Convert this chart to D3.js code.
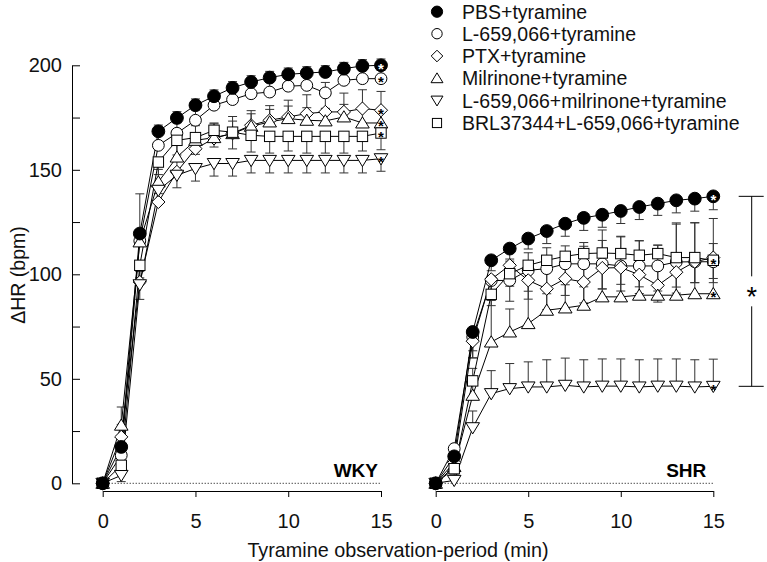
<!DOCTYPE html>
<html><head><meta charset="utf-8">
<script src="https://cdn.jsdelivr.net/npm/d3@7/dist/d3.min.js"></script>
<style>
body{margin:0;background:#fff}
text{font-family:"Liberation Sans",Arial,Helvetica,sans-serif}
</style>
</head><body>
<svg id="c" width="767" height="562"></svg>
<script>
// ---------- data ----------
const times = [0,1,2,3,4,5,6,7,8,9,10,11,12,13,14,15];
const seriesNames = ["PBS+tyramine","L-659,066+tyramine","PTX+tyramine","Milrinone+tyramine","L-659,066+milrinone+tyramine","BRL37344+L-659,066+tyramine"];
const seriesKeys = ["pbs","l659","ptx","mil","l659mil","brl"];
const xTickValues = [0,5,10,15];
const yTickValues = [0,25,50,75,100,125,150,175,200];
const yLabelValues = [0,50,100,150,200];
const panelNames = ["WKY","SHR"];

// WKY means
const wkyPbs     = [0,17.4,119.5,168.4,174.8,180.9,185.2,189.2,192.0,194.1,195.7,196.3,196.8,198.4,199.7,200.0];
const wkyL659    = [0,13.4,116.0,161.7,167.5,173.7,180.9,183.6,186.4,187.2,190.0,190.4,186.8,192.8,193.6,193.6];
const wkyPtx     = [0,22.2,96.3,134.6,149.0,160.1,165.0,167.5,171.3,173.7,175.3,176.9,177.7,177.7,179.3,178.5];
const wkyMil     = [0,27.8,115.5,144.2,156.1,164.1,165.4,167.3,170.8,172.9,174.5,173.7,173.4,175.3,172.4,172.4];
const wkyL659Mil = [0,3.8,95.0,140.2,147.4,150.6,153.0,153.0,154.5,154.5,154.5,154.5,154.5,154.5,154.5,155.3];
const wkyBrl     = [0,8.6,104.3,153.7,164.1,165.4,168.9,168.0,166.5,166.0,166.0,166.0,166.0,166.0,166.0,167.6];
// WKY SEM
const wkyPbsErr     = [0,2,19,3,3,3,3,3,3,3,3,3,3,3,3,3];
const wkyL659Err    = [0,3,4,5,5,5,5,5,5,5,5,5,5,4,4,4];
const wkyPtxErr     = [0,6,5,4,5,6,7,8,7,7,8,9,8,9,9,9];
const wkyMilErr     = [0,8.7,5,6,6,7,7,6,6,6,6,6,6,6,6,6];
const wkyL659MilErr = [0,3,7,6,6,6,6,6,6,6,6,6,6,6,6,6];
const wkyBrlErr     = [0,4,6,6,7,8,8,8,8,8,7,8,8,8,7,8];

// SHR means
const shrPbs     = [0,12.9,72.4,106.7,112.3,117.1,120.7,124.2,127.0,128.5,130.3,132.2,133.8,135.4,136.2,137.3];
const shrL659    = [0,16.6,70.0,97.0,97.1,101.9,102.7,105.0,105.0,105.0,104.0,104.0,104.0,105.9,106.0,106.0];
const shrPtx     = [0,10.0,68.0,97.6,104.3,97.1,93.1,97.9,96.3,103.0,103.2,99.8,94.7,101.0,106.0,108.0];
const shrMil     = [0,8.0,42.1,67.6,72.4,76.4,82.8,83.9,85.2,89.2,89.2,90.0,90.0,90.0,90.7,90.7];
const shrL659Mil = [0,1.4,26.6,42.9,45.3,46.1,46.1,46.9,46.1,46.5,46.5,46.1,46.5,46.5,46.1,46.4];
const shrBrl     = [0,7.0,49.0,90.4,100.3,104.3,106.7,108.6,109.9,110.2,109.9,109.1,109.9,108.0,108.0,106.7];
// SHR SEM
const shrPbsErr     = [0,3,9,5,5,5,6,6,6,6,6,6,5.6,6,6,6.4];
const shrL659Err    = [0,4,10,12,10,10,12,10,11,12,12,10,12,12,10,10];
const shrPtxErr     = [0,4,8,10,10,9,10,8,10,10,8,9,8,10,10,10];
const shrMilErr     = [0,5,8,20,11,20,25,25,30,32,29,26,24,34,34,36];
const shrL659MilErr = [0,3,8,11,12,12,13,13,13,13,13,13,13,13,13,13];
const shrBrlErr     = [0,4,6,5,6,6,6,5,3.5,6,8,7,4,16.6,16.6,8];

// error-bar direction per series (1 = up, -1 = down)
const wkyErrDir = {pbs:1,l659:1,ptx:1,mil:1,l659mil:-1,brl:-1};
const shrErrDir = {pbs:-1,l659:-1,ptx:-1,mil:1,l659mil:1,brl:1};

// ---------- build ----------
const svg = d3.select("#c");
const y = d3.scaleLinear().domain([0,200]).range([483.3,65.3]);
const xL = d3.scaleLinear().domain([0,15]).range([102.7,381]);
const xR = d3.scaleLinear().domain([0,15]).range([435.7,713.3]);
const xAxisY = 491;
const FONT = "Liberation Sans, Arial, sans-serif";

const style = {
  pbs:{shape:"circle",fill:"#000"},
  l659:{shape:"circle",fill:"#fff"},
  ptx:{shape:"diamond",fill:"#fff"},
  mil:{shape:"tri",fill:"#fff"},
  l659mil:{shape:"tridown",fill:"#fff"},
  brl:{shape:"square",fill:"#fff"}
};

function drawSymbol(g, shape, fill, cx, cy, s){
  s = s || 1;
  if(shape==="circle"){
    g.append("circle").attr("cx",cx).attr("cy",cy).attr("r",(fill==="#000"?6.4:5.9)*s)
      .attr("fill",fill).attr("stroke","#000").attr("stroke-width",1);
  } else if(shape==="square"){
    const h=5.2*s;
    g.append("rect").attr("x",cx-h).attr("y",cy-h).attr("width",2*h).attr("height",2*h)
      .attr("fill",fill).attr("stroke","#000").attr("stroke-width",1);
  } else if(shape==="diamond"){
    const h=6.6*s;
    g.append("path").attr("d",`M${cx},${cy-h}L${cx+h},${cy}L${cx},${cy+h}L${cx-h},${cy}Z`)
      .attr("fill",fill).attr("stroke","#000").attr("stroke-width",1);
  } else if(shape==="tri"){
    const w=6.8*s, t=6.2*s, b=5*s;
    g.append("path").attr("d",`M${cx},${cy-t}L${cx+w},${cy+b}L${cx-w},${cy+b}Z`)
      .attr("fill",fill).attr("stroke","#000").attr("stroke-width",1);
  } else if(shape==="tridown"){
    const w=6.8*s, t=6.2*s, b=5*s;
    g.append("path").attr("d",`M${cx},${cy+t}L${cx+w},${cy-b}L${cx-w},${cy-b}Z`)
      .attr("fill",fill).attr("stroke","#000").attr("stroke-width",1);
  }
}

const panels = [
  {x:xL, name:panelNames[0], dir:wkyErrDir,
   data:{pbs:wkyPbs,l659:wkyL659,ptx:wkyPtx,mil:wkyMil,l659mil:wkyL659Mil,brl:wkyBrl},
   err:{pbs:wkyPbsErr,l659:wkyL659Err,ptx:wkyPtxErr,mil:wkyMilErr,l659mil:wkyL659MilErr,brl:wkyBrlErr}},
  {x:xR, name:panelNames[1], dir:shrErrDir,
   data:{pbs:shrPbs,l659:shrL659,ptx:shrPtx,mil:shrMil,l659mil:shrL659Mil,brl:shrBrl},
   err:{pbs:shrPbsErr,l659:shrL659Err,ptx:shrPtxErr,mil:shrMilErr,l659mil:shrL659MilErr,brl:shrBrlErr}}
];

const drawOrder = ["l659","ptx","mil","l659mil","brl","pbs"];

panels.forEach(p=>{
  const x = p.x;
  svg.append("line").attr("x1",x(0)).attr("x2",x(15)).attr("y1",y(0)).attr("y2",y(0))
    .attr("stroke","#000").attr("stroke-width",1).attr("stroke-dasharray","1,2");
  const ax = svg.append("g").attr("transform",`translate(0,${xAxisY})`)
    .call(d3.axisBottom(x).tickValues(xTickValues).tickSizeInner(6).tickSizeOuter(0).tickPadding(17).tickFormat(d3.format("d")));
  ax.select(".domain").attr("stroke","#000");
  ax.selectAll(".tick line").attr("stroke","#000");
  ax.selectAll("text").attr("font-size",20).attr("fill","#111").style("font-family",FONT);
  svg.append("text").attr("x",p.name==="WKY"?x(15)-3:x(15)-7).attr("y",477).attr("text-anchor","end")
    .attr("font-size",19).attr("font-weight","bold").text(p.name);

  const g = svg.append("g");
  drawOrder.forEach(k=>{
    const vals=p.data[k], errs=p.err[k], d=p.dir[k];
    times.forEach((t,i)=>{
      if(!errs[i]) return;
      const y0=y(vals[i]), y1=y(vals[i]+d*errs[i]), cx=x(t);
      g.append("line").attr("x1",cx).attr("x2",cx).attr("y1",y0).attr("y2",y1).attr("stroke","#333").attr("stroke-width",1);
      g.append("line").attr("x1",cx-4.5).attr("x2",cx+4.5).attr("y1",y1).attr("y2",y1).attr("stroke","#333").attr("stroke-width",1);
    });
  });
  drawOrder.forEach(k=>{
    const vals=p.data[k];
    const line = d3.line().x((d,i)=>x(times[i])).y(d=>y(d));
    g.append("path").attr("d",line(vals)).attr("fill","none").attr("stroke","#000").attr("stroke-width",1);
  });
  drawOrder.forEach(k=>{
    const vals=p.data[k], st=style[k];
    times.forEach((t,i)=>{
      drawSymbol(g, st.shape, st.fill, x(t), y(vals[i]));
    });
    const li = times.length-1;
    g.append("text").attr("x",x(times[li])).attr("y",y(vals[li])+8.5).attr("text-anchor","middle")
      .attr("font-size",15).attr("font-weight","bold").attr("fill",st.fill==="#000"?"#fff":"#000").text("*");
  });
});

// y axis
const ay = svg.append("g").attr("transform","translate(72,0)")
  .call(d3.axisLeft(y).tickValues(yTickValues).tickSizeInner(-8).tickSizeOuter(0).tickPadding(10)
    .tickFormat(d=>yLabelValues.includes(d)?d:""));
ay.select(".domain").attr("stroke","#000");
ay.selectAll(".tick line").attr("stroke","#000");
ay.selectAll("text").attr("font-size",20).attr("fill","#111").style("font-family",FONT);

// axis titles
svg.append("text").attr("transform","translate(25,275) rotate(-90)").attr("text-anchor","middle")
  .attr("font-size",19.5).attr("fill","#111").text("\u0394HR (bpm)");
svg.append("text").attr("x",398).attr("y",557).attr("text-anchor","middle")
  .attr("font-size",19.8).attr("fill","#111").text("Tyramine observation-period (min)");

// significance bracket (SHR PBS vs L-659,066+milrinone)
const bx=751.7, bTop=y(shrPbs[15]), bBot=y(shrL659Mil[15]), bMid=(bTop+bBot)/2;
svg.append("line").attr("x1",bx).attr("x2",bx).attr("y1",bTop).attr("y2",bMid-15).attr("stroke","#000");
svg.append("line").attr("x1",bx).attr("x2",bx).attr("y1",bMid+15).attr("y2",bBot).attr("stroke","#000");
svg.append("line").attr("x1",bx-13).attr("x2",bx+12).attr("y1",bTop).attr("y2",bTop).attr("stroke","#000");
svg.append("line").attr("x1",bx-13).attr("x2",bx+12).attr("y1",bBot).attr("y2",bBot).attr("stroke","#000");
svg.append("text").attr("x",bx).attr("y",bMid+15).attr("text-anchor","middle").attr("font-size",27).text("*");

// legend
const legRows = [11.7,33.7,56,78.3,100.5,123];
seriesKeys.forEach((k,i)=>{
  const st=style[k];
  const lg=svg.append("g");
  drawSymbol(lg, st.shape, st.fill, 437, legRows[i], 0.88);
  svg.append("text").attr("x",462).attr("y",legRows[i]+7).attr("font-size",19.5).attr("fill","#111").text(seriesNames[i]);
});
</script>
</body></html>
